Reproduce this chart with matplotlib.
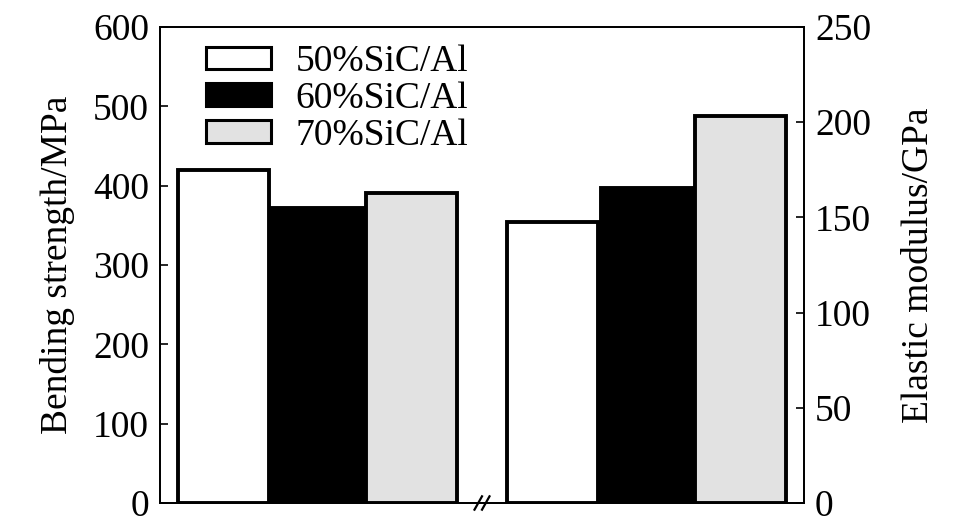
import numpy as np
import matplotlib
matplotlib.use("Agg")
import matplotlib.pyplot as plt
from matplotlib.patches import Patch
import matplotlib.transforms as mtransforms

plt.rcParams['font.family'] = ['Liberation Serif', 'DejaVu Serif']

# data
series = ['50%SiC/Al', '60%SiC/Al', '70%SiC/Al']
bending = [420, 372, 391]      # MPa, left axis
modulus = [147.5, 165.5, 203.5]  # GPa, right axis
colores = ['white', 'black', '#e2e2e2']

fig = plt.figure(figsize=(9.68, 5.32), dpi=100)
ax = fig.add_axes([160/968, 1-503/532, 644/968, 476/532])
ax2 = ax.twinx()

x1 = np.arange(3)
x2 = np.arange(3) + 3.5
ax.bar(x1, bending, width=0.97, color=colores, edgecolor='black', linewidth=2.8, zorder=3)
ax2.bar(x2, modulus, width=0.97, color=colores, edgecolor='black', linewidth=2.8, zorder=3)

ax.set_xlim(-0.68, 6.18)
ax.set_ylim(0, 600)
ax2.set_ylim(0, 250)
ax.set_yticks(range(0, 601, 100))
ax2.set_yticks(range(0, 251, 50))
ax.set_xticks([])

for a in (ax, ax2):
    a.tick_params(axis='y', direction='in', length=6, width=1.2, labelsize=27, pad=8)
    for s in a.spines.values():
        s.set_linewidth(1.3)

ax.set_ylabel('Bending strength/MPa', fontsize=27, labelpad=13)
ax2.set_ylabel('Elastic modulus/GPa', fontsize=27, labelpad=22)

# marcas de corte del eje
trans = mtransforms.blended_transform_factory(ax.transData, ax.transAxes)
for dx in (-0.04, 0.04):
    ax.plot([2.75 + dx - 0.04, 2.75 + dx + 0.04], [-0.014, 0.014], color='black',
            lw=1.6, transform=trans, clip_on=False, zorder=5)

handles = [Patch(facecolor=c, edgecolor='black', linewidth=2.2) for c in colores]
ax.legend(handles, series, loc='upper left', bbox_to_anchor=(0.036, 1.01), frameon=False,
          fontsize=27, handlelength=1.75, handleheight=0.55, handletextpad=0.65,
          labelspacing=0.06, borderaxespad=0.2)

fig.savefig('out.png', dpi=100)
